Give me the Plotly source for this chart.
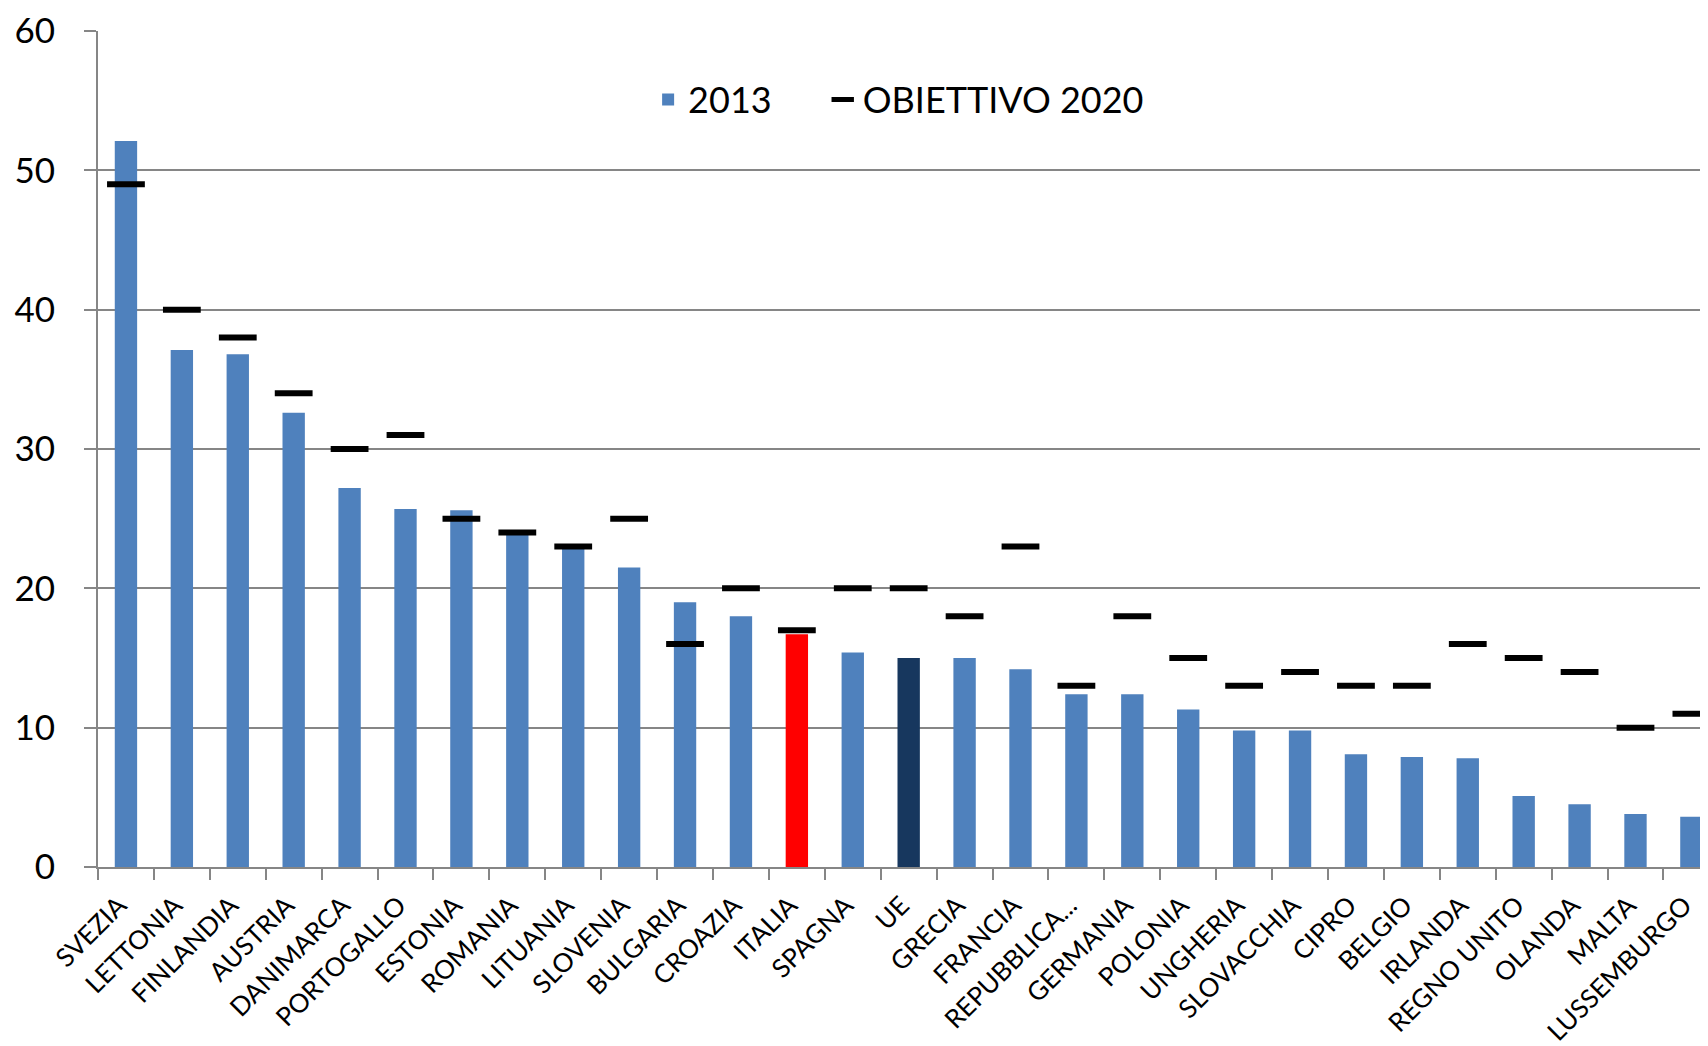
import plotly.graph_objects as go

countries = ["SVEZIA", "LETTONIA", "FINLANDIA", "AUSTRIA", "DANIMARCA", "PORTOGALLO",
             "ESTONIA", "ROMANIA", "LITUANIA", "SLOVENIA", "BULGARIA", "CROAZIA",
             "ITALIA", "SPAGNA", "UE", "GRECIA", "FRANCIA", "REPUBBLICA...",
             "GERMANIA", "POLONIA", "UNGHERIA", "SLOVACCHIA", "CIPRO", "BELGIO",
             "IRLANDA", "REGNO UNITO", "OLANDA", "MALTA", "LUSSEMBURGO"]
values_2013 = [52.1, 37.1, 36.8, 32.6, 27.2, 25.7, 25.6, 23.9, 23.0, 21.5, 19.0, 18.0,
               16.7, 15.4, 15.0, 15.0, 14.2, 12.4, 12.4, 11.3, 9.8, 9.8, 8.1, 7.9,
               7.8, 5.1, 4.5, 3.8, 3.6]
target_2020 = [49, 40, 38, 34, 30, 31, 25, 24, 23, 25, 16, 20, 17, 20, 20, 18, 23, 13,
               18, 15, 13, 14, 13, 13, 16, 15, 14, 10, 11]
y_ticks = [0, 10, 20, 30, 40, 50, 60]

BLUE = "#4F81BD"
bar_colors = []
for c in countries:
    if c == "ITALIA":
        bar_colors.append("#FF0000")
    elif c == "UE":
        bar_colors.append("#17375E")
    else:
        bar_colors.append(BLUE)

FONT = "Lato, Carlito, Calibri, sans-serif"
NBSP = "\u00a0"

fig = go.Figure()
fig.add_trace(go.Bar(
    x=countries, y=values_2013, name="2013" + NBSP * 5,
    marker=dict(color=bar_colors, line=dict(width=0)),
    width=0.4,
))
fig.add_trace(go.Scatter(
    x=countries, y=target_2020, name="OBIETTIVO 2020", mode="markers",
    marker=dict(symbol="line-ew", size=27, color="black",
                line=dict(width=6, color="black")),
    cliponaxis=False,
))

fig.update_layout(
    width=1708, height=1046,
    margin=dict(l=90, r=0, t=23, b=187),
    paper_bgcolor="white", plot_bgcolor="white",
    font=dict(family=FONT, color="black"),
    showlegend=True,
    legend=dict(orientation="h", x=0.34, xanchor="left", y=0.918, yanchor="middle",
                font=dict(size=36, family=FONT), bgcolor="rgba(0,0,0,0)",
                itemwidth=30, traceorder="normal"),
    bargap=0.6,
)
fig.update_xaxes(
    type="category", range=[-0.5, 28.44], automargin=False,
    showline=True, linecolor="#868686", linewidth=2,
    ticks="outside", tickson="boundaries", ticklen=11, tickcolor="#868686", tickwidth=2,
    tickangle=-45, tickfont=dict(size=26, family=FONT), showgrid=False,
    ticklabelstandoff=11, ticklabelshift=-7,
)
fig.update_yaxes(
    range=[0, 60], tickvals=y_ticks, automargin=False,
    showline=True, linecolor="#868686", linewidth=2,
    ticks="outside", ticklen=12, tickcolor="#868686", tickwidth=2,
    showgrid=True, gridcolor="#868686", gridwidth=2,
    tickfont=dict(size=35, family=FONT), ticklabelstandoff=22,
    ticklabeloverflow="allow",
    zeroline=False,
)

fig.write_html("out.html")
